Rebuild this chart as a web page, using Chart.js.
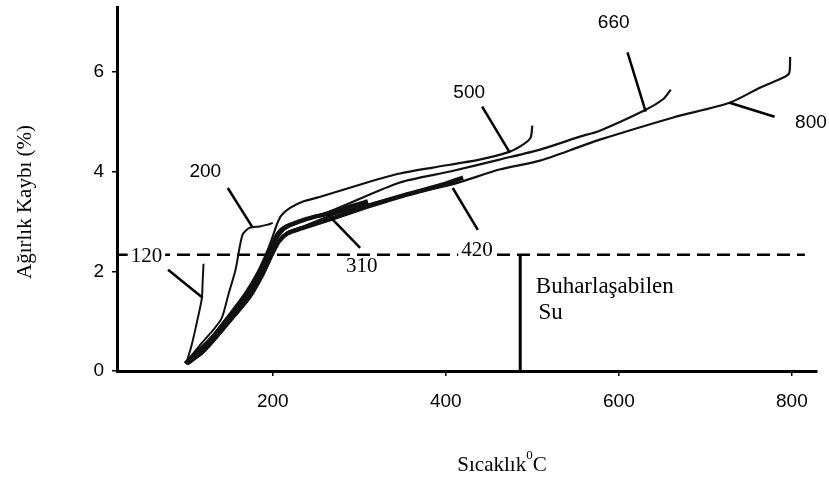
<!DOCTYPE html>
<html>
<head>
<meta charset="utf-8">
<script src="https://cdn.jsdelivr.net/npm/chart.js@4.4.0/dist/chart.umd.min.js"></script>
<style>
  html, body { margin: 0; padding: 0; background: #fff; }
  #wrap { width: 829px; height: 479px; }
</style>
</head>
<body>
<div id="wrap"><canvas id="tga" width="829" height="479"></canvas></div>
<script>
// Ön ısıtma sıcaklığına göre ağırlık kaybı eğrileri (sıcaklık °C, kayıp %)
const t120 = [100, 106, 112, 118, 119, 120];
const w120 = [0.15, 0.5, 0.95, 1.45, 1.8, 2.15];

const t200 = [100, 115, 131, 141, 149, 157, 165, 173, 185, 193, 200];
const w200 = [0.18, 0.5, 0.82, 1.06, 1.55, 2.03, 2.73, 2.87, 2.9, 2.93, 2.97];

const t310 = [99, 113, 129, 148, 168, 183, 195, 204, 214, 231, 250, 269, 290, 310];
const w310 = [0.15, 0.38, 0.64, 1.02, 1.46, 1.9, 2.35, 2.67, 2.87, 3.0, 3.1, 3.17, 3.3, 3.4];

const t420 = [101, 118, 134, 153, 173, 188, 199, 207, 217, 233, 269, 310, 347, 393, 420];
const w420 = [0.15, 0.38, 0.68, 1.08, 1.5, 1.95, 2.35, 2.6, 2.76, 2.86, 3.06, 3.3, 3.5, 3.72, 3.88];

const t500 = [100, 114, 130, 149, 168, 183, 194, 200, 205, 210, 220, 235, 254, 309, 347, 385, 439, 474, 490, 498, 500];
const w500 = [0.15, 0.4, 0.7, 1.12, 1.56, 2.0, 2.42, 2.7, 2.95, 3.12, 3.27, 3.4, 3.49, 3.78, 3.96, 4.08, 4.24, 4.4, 4.55, 4.68, 4.92];

const t660 = [101, 116, 132, 151, 171, 186, 197, 205, 215, 231, 270, 347, 405, 462, 509, 555, 578, 631, 651, 660];
const w660 = [0.17, 0.44, 0.74, 1.14, 1.58, 2.02, 2.47, 2.77, 2.92, 3.0, 3.23, 3.78, 4.0, 4.24, 4.44, 4.7, 4.82, 5.24, 5.45, 5.64];

const t800 = [102, 119, 135, 154, 174, 189, 200, 208, 217, 233, 269, 347, 405, 462, 509, 555, 578, 662, 728, 763, 792, 797, 798];
const w800 = [0.16, 0.36, 0.66, 1.05, 1.47, 1.92, 2.33, 2.6, 2.78, 2.88, 3.13, 3.51, 3.73, 4.04, 4.22, 4.5, 4.64, 5.08, 5.38, 5.68, 5.9, 5.98, 6.3];

// buharlaşabilen su sınırı
const limitT = [20, 815];
const limitW = [2.33, 2.33];
const wallT = [486, 486];
const wallW = [0, 2.33];

const xTicks = [200, 400, 600, 800];
const yTicks = [0, 2, 4, 6];

const pts = (ts, ws) => ts.map((t, i) => ({ x: t, y: ws[i] }));

function curve(label, ts, ws, width) {
    return {
        label: label,
        data: pts(ts, ws),
        borderColor: '#111',
        borderWidth: width,
        pointRadius: 0,
        tension: 0.25,
        fill: false
    };
}

// eğri etiketleri ve işaret çizgileri (veri birimleriyle)
const notes = [
    { text: '120', x: 54, y: 2.29, serif: true, clear: true, from: [79, 2.03], to: [119, 1.47] },
    { text: '200', x: 122, y: 4.0, serif: false, from: [148, 3.67], to: [177, 2.87] },
    { text: '310', x: 303, y: 2.09, serif: true, clear: true, from: [301, 2.47], to: [264, 3.13] },
    { text: '420', x: 436, y: 2.41, serif: true, clear: true, from: [437, 2.83], to: [408, 3.67] },
    { text: '500', x: 427, y: 5.58, serif: false, from: [442, 5.3], to: [474, 4.38] },
    { text: '660', x: 594, y: 6.99, serif: false, from: [610, 6.39], to: [631, 5.2] },
    { text: '800', x: 822, y: 4.98, serif: false, from: [780, 5.1], to: [728, 5.38] }
];

const notesPlugin = {
    id: 'notes',
    afterDatasetsDraw(chart) {
        const { ctx } = chart;
        const sx = chart.scales.x, sy = chart.scales.y;
        ctx.save();
        ctx.strokeStyle = '#000';
        ctx.lineWidth = 2.5;
        notes.forEach(n => {
            ctx.beginPath();
            ctx.moveTo(sx.getPixelForValue(n.from[0]), sy.getPixelForValue(n.from[1]));
            ctx.lineTo(sx.getPixelForValue(n.to[0]), sy.getPixelForValue(n.to[1]));
            ctx.stroke();
        });
        ctx.textAlign = 'center';
        ctx.textBaseline = 'middle';
        notes.forEach(n => {
            ctx.font = n.serif ? '21px "Liberation Serif", serif' : '19px "Liberation Sans", sans-serif';
            const px = sx.getPixelForValue(n.x), py = sy.getPixelForValue(n.y);
            if (n.clear) {
                const w = ctx.measureText(n.text).width;
                ctx.fillStyle = '#fff';
                ctx.fillRect(px - w / 2 - 3, py - 9, w + 6, 18);
            }
            ctx.fillStyle = '#000';
            ctx.fillText(n.text, px, py);
        });

        // Buharlaşabilen Su yazısı
        ctx.textAlign = 'left';
        ctx.font = '23px "Liberation Serif", serif';
        ctx.fillText('Buharlaşabilen', sx.getPixelForValue(504), sy.getPixelForValue(1.69));
        ctx.fillText('Su', sx.getPixelForValue(507), sy.getPixelForValue(1.16));
        ctx.restore();
    },
    afterDraw(chart) {
        const { ctx, chartArea } = chart;
        ctx.save();
        ctx.fillStyle = '#000';
        ctx.font = '21px "Liberation Serif", serif';
        ctx.textBaseline = 'middle';

        // y ekseni başlığı
        ctx.save();
        ctx.translate(25, chartArea.top + 195);
        ctx.rotate(-Math.PI / 2);
        ctx.textAlign = 'center';
        ctx.fillText('Ağırlık Kaybı (%)', 0, 0);
        ctx.restore();

        // x ekseni başlığı, derece işareti üstte küçük
        const a = 'Sıcaklık', b = '0', c = 'C';
        const wa = ctx.measureText(a).width;
        ctx.font = '13px "Liberation Serif", serif';
        const wb = ctx.measureText(b).width;
        ctx.font = '21px "Liberation Serif", serif';
        const wc = ctx.measureText(c).width;
        let x0 = 502 - (wa + wb + wc) / 2;
        const yb = chartArea.bottom + 94;
        ctx.textAlign = 'left';
        ctx.fillText(a, x0, yb);
        ctx.font = '13px "Liberation Serif", serif';
        ctx.fillText(b, x0 + wa, yb - 9);
        ctx.font = '21px "Liberation Serif", serif';
        ctx.fillText(c, x0 + wa + wb, yb);
        ctx.restore();
    }
};

const datasets = [
    curve('120', t120, w120, 2),
    curve('200', t200, w200, 2),
    curve('310', t310, w310, 4.5),
    curve('420', t420, w420, 4.5),
    curve('500', t500, w500, 2.2),
    curve('660', t660, w660, 2.2),
    curve('800', t800, w800, 2.2),
    {
        label: 'sınır',
        data: pts(limitT, limitW),
        borderColor: '#000',
        borderWidth: 2.5,
        borderDash: [13, 7],
        pointRadius: 0,
        fill: false
    },
    {
        label: 'su',
        data: pts(wallT, wallW),
        borderColor: '#000',
        borderWidth: 3,
        pointRadius: 0,
        fill: false
    }
];

new Chart(document.getElementById('tga'), {
    type: 'line',
    data: { datasets: datasets },
    options: {
        responsive: false,
        devicePixelRatio: 1,
        animation: false,
        layout: { padding: { top: 7, right: 12, left: 0, bottom: 0 } },
        plugins: { legend: { display: false }, tooltip: { enabled: false } },
        scales: {
            x: {
                type: 'linear',
                min: 20,
                max: 829,
                afterFit: s => { s.height = 108; s.paddingLeft = 0; s.paddingRight = 0; },
                afterBuildTicks: s => { s.ticks = xTicks.map(v => ({ value: v })); },
                grid: { drawOnChartArea: false, color: '#000', lineWidth: 1.5, tickLength: 5 },
                border: { color: '#000', width: 3 },
                ticks: {
                    color: '#000',
                    padding: 14,
                    maxRotation: 0,
                    font: { family: '"Liberation Sans", sans-serif', size: 19 }
                }
            },
            y: {
                type: 'linear',
                min: 0,
                max: 7.3,
                afterFit: s => { s.width = 117; s.paddingTop = 0; s.paddingBottom = 0; },
                afterBuildTicks: s => { s.ticks = yTicks.map(v => ({ value: v })); },
                grid: { drawOnChartArea: false, color: '#000', lineWidth: 1.5, tickLength: 5 },
                border: { color: '#000', width: 3 },
                ticks: {
                    color: '#000',
                    padding: 8,
                    font: { family: '"Liberation Sans", sans-serif', size: 19 }
                }
            }
        }
    },
    plugins: [notesPlugin]
});
</script>
</body>
</html>
